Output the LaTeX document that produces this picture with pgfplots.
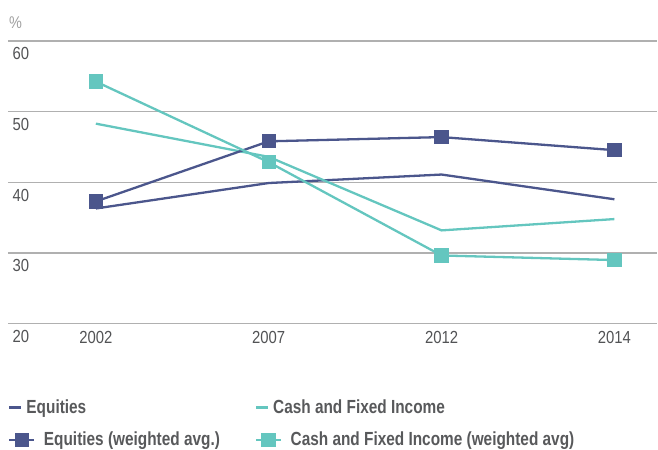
\documentclass[border=0pt]{standalone}
\usepackage{fontspec}
\setmainfont{Liberation Sans}[FakeStretch=0.85]
\newfontfamily\legfont{Liberation Sans Bold}[FakeStretch=0.81]
\usepackage{pgfplots}
\pgfplotsset{compat=1.18}
\definecolor{navy}{HTML}{4B568C}
\definecolor{teal2}{HTML}{64C6BF}
\definecolor{gridgray}{HTML}{B0B0B0}
\definecolor{ticktext}{HTML}{525355}
\definecolor{legtext}{HTML}{58595B}
\definecolor{pctgray}{HTML}{A0A0A0}
\pgfplotsset{
  lineleg/.style={legend image code/.code={\draw[##1] (0pt,0pt) -- (12pt,0pt);}},
  markleg/.style={legend image code/.code={\draw[##1, mark repeat=2, mark phase=2] plot coordinates {(0pt,0pt) (12.5pt,0pt) (25pt,0pt)};}},
}
\begin{document}
\begin{tikzpicture}[x=1pt,y=1pt]
\path (0,0) rectangle (658,450);
\begin{axis}[
  at={(8pt,126pt)}, anchor=south west,
  scale only axis, width=650pt, height=283pt,
  xmin=-0.5087, xmax=3.2486, ymin=20, ymax=60,
  xtick={0,1,2,3}, xticklabels={2002,2007,2012,2014},
  ytick={20,30,40,50,60},
  axis line style={draw=none},
  major tick length=0pt,
  ymajorgrids, grid style={gridgray, line width=1.3pt},
  /pgf/number format/assume math mode=true,
  ticklabel style={font=\fontsize{17.5}{20}\selectfont, text=ticktext, inner sep=0pt},
  xticklabel style={anchor=north, yshift=-7.5pt},
  yticklabel style={anchor=north west, xshift=4.5pt, yshift=-6.5pt},
  clip=false,
  legend columns=2,
  legend style={at={(axis description cs:0,0)}, anchor=north west, xshift=0pt, yshift=-76pt,
    draw=none, fill=none, inner sep=0pt,
    font=\legfont\fontsize{19}{22}\selectfont,
    nodes={text=legtext, inner sep=0pt},
    cells={anchor=west},
    /tikz/every odd column/.append style={column sep=8.5pt},
    /tikz/every even column/.append style={column sep=35pt},
    row sep=17pt},
]
\addplot[navy, line width=2.3pt, lineleg]
  coordinates {(0,36.3) (1,39.9) (2,41.1) (3,37.6)};
\addlegendentry{\hspace*{-17.5pt}Equities}
\addplot[teal2, line width=2.3pt, lineleg]
  coordinates {(0,48.3) (1,43.6) (2,33.2) (3,34.8)};
\addlegendentry{\hspace*{-17.5pt}Cash and Fixed Income}
\addplot[navy, line width=2.3pt, mark=square*, mark size=6pt, mark options={solid, draw=none}, markleg]
  coordinates {(0,37.3) (1,45.8) (2,46.4) (3,44.55)};
\addlegendentry{Equities (weighted avg.)}
\addplot[teal2, line width=2.3pt, mark=square*, mark size=6pt, mark options={solid, draw=none}, markleg]
  coordinates {(0,54.25) (1,42.85) (2,29.65) (3,29.0)};
\addlegendentry{Cash and Fixed Income (weighted avg)}
\node[anchor=base west, font=\fontsize{17}{20}\selectfont, text=pctgray, inner sep=0pt, xshift=1pt, yshift=12pt] at (axis description cs:0,1) {\%};
\end{axis}
\end{tikzpicture}
\end{document}
